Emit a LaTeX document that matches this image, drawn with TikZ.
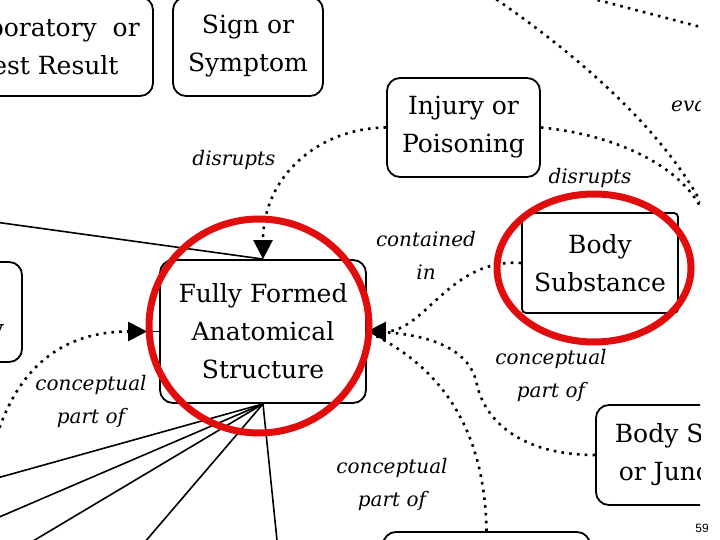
\documentclass[tikz,border=0pt]{standalone}
\usepackage{fontspec}
\setmainfont{DejaVu Serif}
\newfontfamily\pgnum{Liberation Sans}
\usetikzlibrary{arrows.meta}
\definecolor{hired}{RGB}{225,12,12}
\begin{document}
\begin{tikzpicture}[x=1pt,y=-1pt,
  box/.style={draw, line width=1.8pt, rounded corners=13pt, align=center,
    font=\fontsize{25}{38}\selectfont, inner sep=0pt},
  lbl/.style={align=center, font=\fontsize{20}{33}\selectfont\itshape, inner sep=0pt},
  dots/.style={line width=2.6pt, dash pattern=on 2.6pt off 5.2pt},
  solidln/.style={line width=1.6pt},
  tip/.style={-{Triangle[length=19pt,width=19pt]}},
  hl/.style={draw=hired, line width=7pt}]
\useasboundingbox (0,0) rectangle (720,540);
\begin{scope}
\clip (0,0) rectangle (700,540);
% nodes
\node[box, minimum width=210pt, minimum height=99pt] (lab) at (48,46.5) {Laboratory\ \ or\\Test Result};
\node[box, minimum width=150pt, minimum height=99pt] (sign) at (248,46.5) {Sign or\\Symptom};
\node[box, minimum width=153pt, minimum height=99pt] (inj) at (463.5,127.5) {Injury or\\Poisoning};
\node[box, minimum width=206pt, minimum height=143pt] (ff) at (263,331.5) {Fully Formed\\Anatomical\\Structure};
\node[box, rounded corners=4pt, minimum width=156pt, minimum height=100pt] (bs) at (600,263) {Body\\Substance};
\node[box, minimum width=186pt, minimum height=100pt] (bsj) at (689,455) {Body Space\\or Junction};
\node[box, minimum width=207pt, minimum height=100pt] (bb) at (486.5,582) {};
\node[box, minimum width=192pt, minimum height=100pt] (lft) at (-74,312) {Anatomical\\Abnormality};
% labels
\node[lbl] (l1) at (234,160) {disrupts};
\node[lbl] (l2) at (590,178) {disrupts};
\node[lbl] (l3) at (426,255) {contained\\in};
\node[lbl] (l4) at (551,375) {conceptual\\part of};
\node[lbl] (l5) at (392,484) {conceptual\\part of};
\node[lbl] (l6) at (91,401) {conceptual\\part of};
\node[lbl, anchor=west] (l7) at (671,106) {evaluation of};
% free ends
\coordinate (e1) at (706,220);
\coordinate (t1) at (490,-5);
\coordinate (t2) at (712,225);
\coordinate (t3) at (590,-2);
\coordinate (t4) at (712,30);
\coordinate (lcp) at (-3,435);
\coordinate (sl) at (-5,222);
\coordinate (f1) at (-10,480);
\coordinate (f2) at (-10,521);
\coordinate (f3) at (18,550);
\coordinate (f4) at (138,550);
\coordinate (f5) at (278,550);
% connectors
\draw[dots, tip] (inj.west) .. controls (320,128) and (263,175) .. (ff.north);
\draw[dots] (inj.east) .. controls (620,135) and (690,170) .. (e1);
\draw[dots] (t1) .. controls (600,70) and (680,150) .. (t2);
\draw[dots] (t3) -- (t4);
\draw[dots, tip] (bs.west) .. controls (450,258) and (425,331.5) .. (ff.east);
\draw[dots] (bsj.west) .. controls (520,455) and (485,420) .. (477,385)
  .. controls (470,345) and (420,332) .. (ff.east);
\draw[dots] (bb.north) .. controls (485,440) and (450,370) .. (ff.east);
\draw[dots, tip, shorten >=12pt] (lcp) .. controls (18,370) and (60,331.5) .. (ff.west);
\draw[solidln] (ff.west) -- ++(-12,0);
\draw[solidln] (sl) -- (ff.north);
\foreach \c in {f1,f2,f3,f4,f5} \draw[solidln] (ff.south) -- (\c);
% highlights
\draw[hl] (259,326) ellipse [x radius=110, y radius=107];
\draw[hl] (594,268) ellipse [x radius=97, y radius=74];
\end{scope}
\node (pg) at (702,528) {\pgnum\fontsize{12}{14}\selectfont 59};
\end{tikzpicture}
\end{document}
